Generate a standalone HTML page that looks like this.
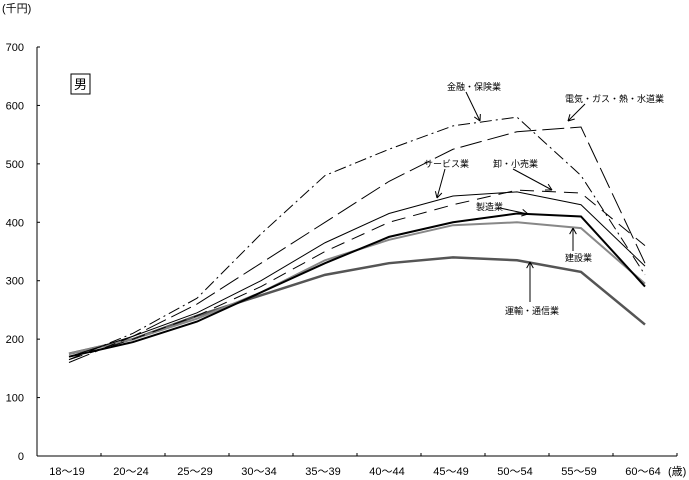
<!DOCTYPE html>
<html><head><meta charset="utf-8"><style>
body{margin:0;background:#fff}
svg{display:block;font-family:"Liberation Sans","Noto Sans CJK JP",sans-serif}
</style></head><body>
<svg id="c" width="689" height="480" viewBox="0 0 689 480">
<text x="2" y="12" font-size="11">(千円)</text>
<rect x="71" y="74" width="19" height="20" fill="#fff" stroke="#000"/>
<text x="80.5" y="89" font-size="13" text-anchor="middle">男</text>
<g id="axes"></g><g id="series"></g><g id="ann"></g>
</svg>
<script>
const categories=["18～19","20～24","25～29","30～34","35～39","40～44","45～49","50～54","55～59","60～64"];
const yTicks=[0,100,200,300,400,500,600,700];
const finance=[165,210,270,380,480,525,565,580,480,310];
const utility=[160,205,260,330,400,470,525,555,563,330];
const service=[170,205,245,300,365,415,445,452,430,325];
const retail=[165,200,240,290,350,400,430,455,450,360];
const manuf=[170,195,230,280,330,375,400,415,410,290];
const constr=[175,200,235,280,335,370,395,400,390,295];
const transport=[175,200,240,275,310,330,340,335,315,225];
const NS="http://www.w3.org/2000/svg";
const X0=37,Y0=456,CW=64,YS=409/700;
const xs=i=>X0+CW*(i+0.5), ys=v=>Y0-v*YS;
function mk(t,a,p){const e=document.createElementNS(NS,t);for(const k in a)e.setAttribute(k,a[k]);p.appendChild(e);return e;}
const ax=document.getElementById('axes');
const yl=mk('line',{x1:X0,y1:ys(700),x2:X0,y2:Y0,stroke:'#000'},ax);


const xl=mk('line',{x1:X0,y1:Y0,x2:X0+CW*10,y2:Y0,stroke:'#000'},ax);


yTicks.forEach(v=>{
 mk('line',{x1:X0,y1:ys(v),x2:X0+3,y2:ys(v),stroke:'#000'},ax);
 const t=mk('text',{x:24,y:ys(v)+4,'font-size':11,'text-anchor':'end'},ax);t.textContent=v;
 
 
});
categories.forEach((c,i)=>{
 mk('line',{x1:X0+CW*(i+1),y1:Y0,x2:X0+CW*(i+1),y2:Y0-3,stroke:'#000'},ax);
 const t=mk('text',{x:xs(i)-2,y:475,'font-size':11,'text-anchor':'middle'},ax);t.textContent=c;
 
 
});
const u=mk('text',{x:668,y:475,'font-size':11},ax);u.textContent="(歳)";


const sg=document.getElementById('series');
function line(d,name,st){
 const p=mk('polyline',Object.assign({points:d.map((v,i)=>xs(i)+','+ys(v)).join(' '),fill:'none'},st),sg);
 
 
}
line(transport,'transport-line',{stroke:'#555',"stroke-width":2.5});
line(constr,'construction-line',{stroke:'#888',"stroke-width":2});
line(manuf,'manufacturing-line',{stroke:'#000',"stroke-width":2});
line(service,'service-line',{stroke:'#000',"stroke-width":1});
line(retail,'retail-line',{stroke:'#000',"stroke-width":1,"stroke-dasharray":"14 8"});
line(utility,'utility-line',{stroke:'#000',"stroke-width":1,"stroke-dasharray":"22 6"});
line(finance,'finance-line',{stroke:'#000',"stroke-width":1,"stroke-dasharray":"12 4 2 4"});
const an=document.getElementById('ann');
const labels=[["金融・保険業",447,90,466,92,480,121],["電気・ガス・熱・水道業",565,102,585,104,568,121],["サービス業",424,167,445,169,437,198],["卸・小売業",493,167,513,169,552,190],["製造業",476,210,500,208,528,214],["建設業",565,261,573,251,573,228],["運輸・通信業",505,314,530,302,530,262]];
labels.forEach(l=>{
 const t=mk('text',{x:l[1],y:l[2],'font-size':9},an);t.textContent=l[0];
 
 
 mk('line',{x1:l[3],y1:l[4],x2:l[5],y2:l[6],stroke:'#000'},an);
 const a=Math.atan2(l[6]-l[4],l[5]-l[3]);
 [0.5,-0.5].forEach(d=>mk('line',{x1:l[5],y1:l[6],x2:l[5]-7*Math.cos(a+d),y2:l[6]-7*Math.sin(a+d),stroke:'#000'},an));
});
</script>
</body></html>
